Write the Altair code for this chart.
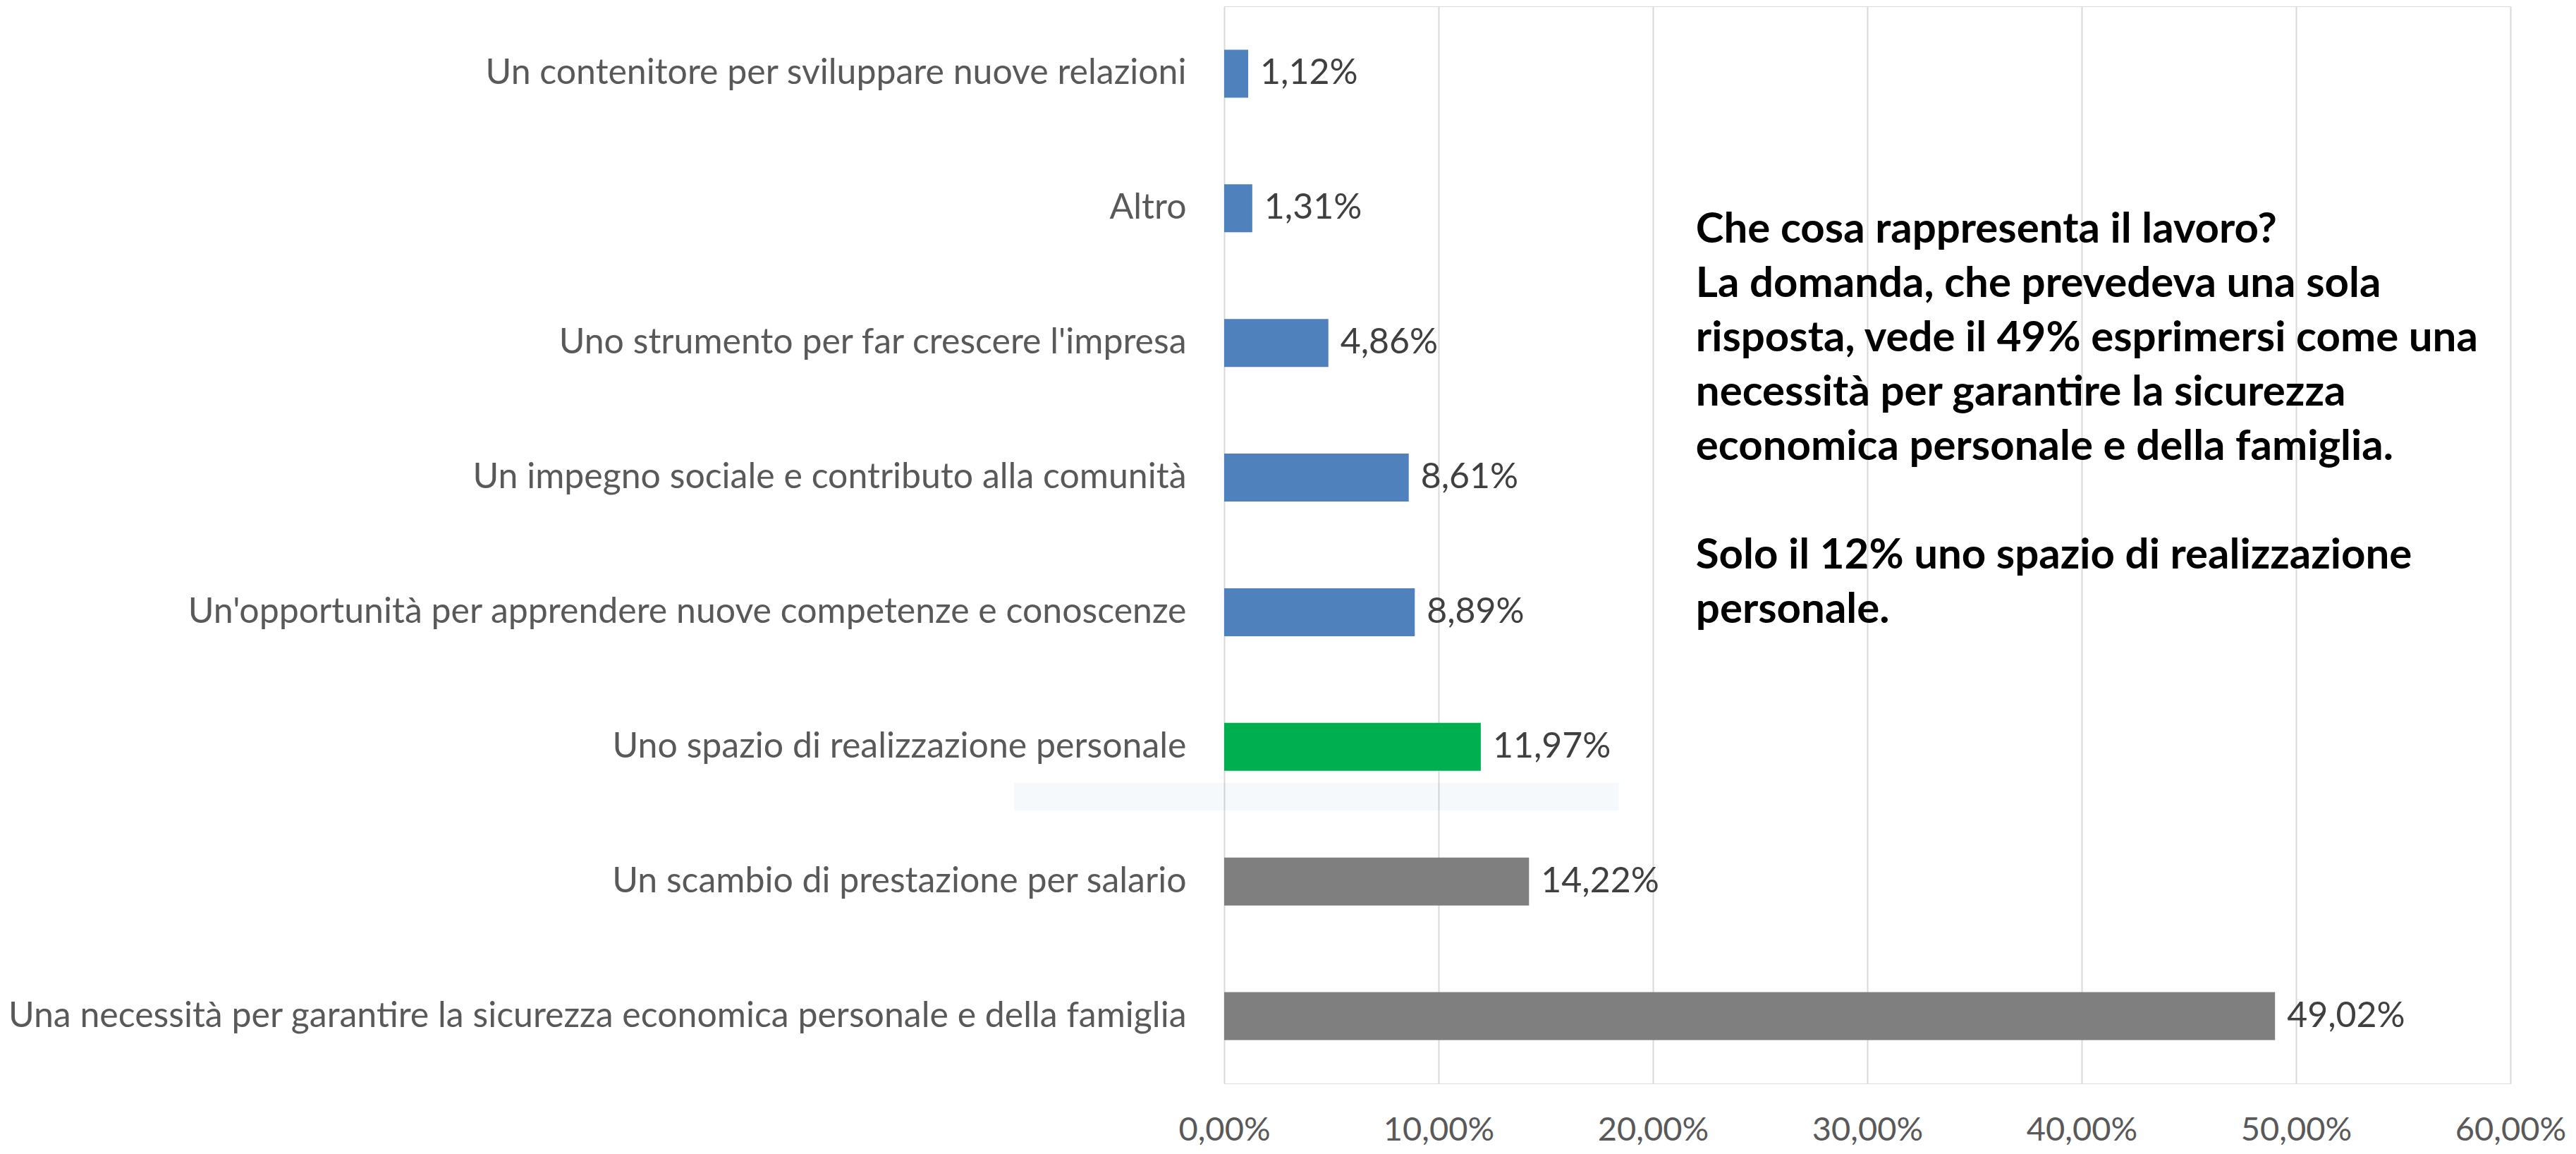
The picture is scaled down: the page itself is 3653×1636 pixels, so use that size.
import altair as alt
import pandas as pd

# ---- data ----
categories = [
    "Un contenitore per sviluppare nuove relazioni",
    "Altro",
    "Uno strumento per far crescere l'impresa",
    "Un impegno sociale e contributo alla comunità",
    "Un'opportunità per apprendere nuove competenze e conoscenze",
    "Uno spazio di realizzazione personale",
    "Un scambio di prestazione per salario",
    "Una necessità per garantire la sicurezza economica personale e della famiglia",
]
values = [1.12, 1.31, 4.86, 8.61, 8.89, 11.97, 14.22, 49.02]
groups = ["blu", "blu", "blu", "blu", "blu", "verde", "grigio", "grigio"]

group_names = ["blu", "verde", "grigio"]
group_colors = ["#4F81BD", "#00B050", "#7F7F7F"]

tick_values = [0, 10, 20, 30, 40, 50, 60]

annotation_par1 = [
    "Che cosa rappresenta il lavoro?",
    "La domanda, che prevedeva una sola",
    "risposta, vede il 49% esprimersi come una",
    "necessità per garantire la sicurezza",
    "economica personale e della famiglia.",
]
annotation_par2 = [
    "Solo il 12% uno spazio di realizzazione",
    "personale.",
]
annotation_x = [22.0]

band_x_start = [-9.8]
band_x_end = [18.4]

FONT = "Lato"

df = pd.DataFrame({"categoria": categories, "valore": values, "gruppo": groups})

x_axis = alt.Axis(
    values=tick_values,
    grid=True,
    gridColor="#D9D9D9",
    gridWidth=2,
    ticks=False,
    tickSize=0,
    domain=False,
    labelFlush=False,
    labelOverlap=False,
    labelExpr="replace(format(datum.value, '.2f'), '.', ',') + '%'",
    labelFont=FONT,
    labelFontSize=47,
    labelColor="#595959",
    labelBaseline="alphabetic",
    labelPadding=80,
    title=None,
)
x_scale = alt.Scale(domain=[0, 60], nice=False, zero=True)

y_enc = alt.Y(
    "categoria:N",
    sort=categories,
    scale=alt.Scale(paddingInner=0.644, paddingOuter=0.322),
    axis=alt.Axis(
        grid=False,
        ticks=False,
        tickSize=0,
        domain=False,
        labelFont=FONT,
        labelFontSize=50,
        labelColor="#595959",
        labelPadding=54,
        labelLimit=3000,
        title=None,
    ),
    title=None,
)

bars = alt.Chart(df).mark_bar().encode(
    y=y_enc,
    x=alt.X("valore:Q", scale=x_scale, axis=x_axis, title=None),
    color=alt.Color("gruppo:N", scale=alt.Scale(domain=group_names, range=group_colors), legend=None),
)

labels = alt.Chart(df).transform_calculate(
    etichetta="replace(format(datum.valore, '.2f'), '.', ',') + '%'"
).mark_text(
    align="left", baseline="middle", dx=17, font=FONT, fontSize=50, color="#404040"
).encode(
    y=y_enc,
    x=alt.X("valore:Q", scale=x_scale, axis=x_axis, title=None),
    text="etichetta:N",
)

band = alt.Chart(pd.DataFrame({"x1": band_x_start, "x2": band_x_end})).mark_rect(
    color="#4F81BD", opacity=0.05
).encode(
    x=alt.X("x1:Q", scale=x_scale, axis=x_axis, title=None),
    x2="x2:Q",
    y=alt.value(1101),
    y2=alt.value(1140),
)


def annotation_layer(lines, y_px):
    return alt.Chart(pd.DataFrame({"x": annotation_x})).mark_text(
        align="left",
        baseline="alphabetic",
        font=FONT,
        fontWeight="bold",
        fontSize=60,
        lineHeight=77,
        color="#000000",
        text=lines,
    ).encode(
        x=alt.X("x:Q", scale=x_scale, axis=x_axis, title=None),
        y=alt.value(y_px),
    )


annotation1 = annotation_layer(annotation_par1, 335)
annotation2 = annotation_layer(annotation_par2, 797)

chart = alt.layer(band, bars, labels, annotation1, annotation2).properties(
    width=1824,
    height=1527,
    autosize=alt.AutoSizeParams(type="none"),
    padding={"left": 1728, "top": 1, "right": 85, "bottom": 91},
).configure_view(stroke=None).configure(background="#FFFFFF")

chart.save("out.html", embed_options={"renderer": "svg", "actions": False})
